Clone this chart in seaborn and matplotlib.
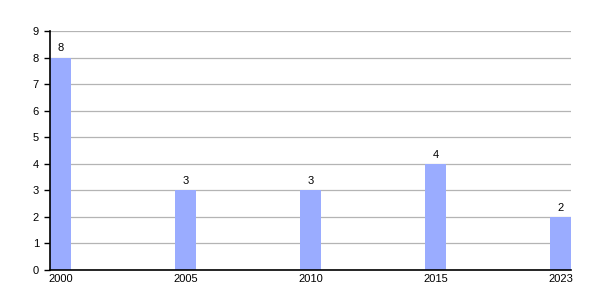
import matplotlib
matplotlib.use("Agg")
import matplotlib.pyplot as plt
import seaborn as sns
import pandas as pd

years = ["2000", "2005", "2010", "2015", "2023"]
values = [8, 3, 3, 4, 2]

sns.set_theme(style="white")
plt.rcParams['font.family'] = ['Liberation Sans', 'DejaVu Sans']

df = pd.DataFrame({"year": years, "value": values})

fig = plt.figure(figsize=(6, 3), dpi=100)
ax = fig.add_axes([50/600, 30/300, 521/600, 239/300])

bw = 0.168
sns.barplot(data=df, x="year", y="value", color="#9aacff", width=bw,
            saturation=1, ax=ax, linewidth=0, edgecolor="none")
for p in ax.patches:
    p.set_zorder(3)

ax.set_xlim(-bw/2, len(years) - 1 + bw/2)
ax.set_ylim(0, 9)
ax.set_yticks(range(0, 10))
ax.yaxis.grid(True, color="#b4b4b4", linewidth=0.9, zorder=1)
ax.xaxis.grid(False)
ax.set_axisbelow(True)
ax.set_xlabel("")
ax.set_ylabel("")

for s in ["top", "right"]:
    ax.spines[s].set_visible(False)
for s in ["left", "bottom"]:
    ax.spines[s].set_color("black")
    ax.spines[s].set_linewidth(1.2)
    ax.spines[s].set_zorder(4)

ax.tick_params(axis="y", which="both", left=True, length=4, width=1,
               color="black", labelsize=8, pad=4, labelcolor="black")
ax.tick_params(axis="x", which="both", bottom=False, length=0,
               labelsize=8, pad=3, labelcolor="black")

for c in ax.containers:
    ax.bar_label(c, labels=[str(v) for v in values], padding=3,
                 fontsize=8, color="black")

fig.savefig("out.png", dpi=100)
